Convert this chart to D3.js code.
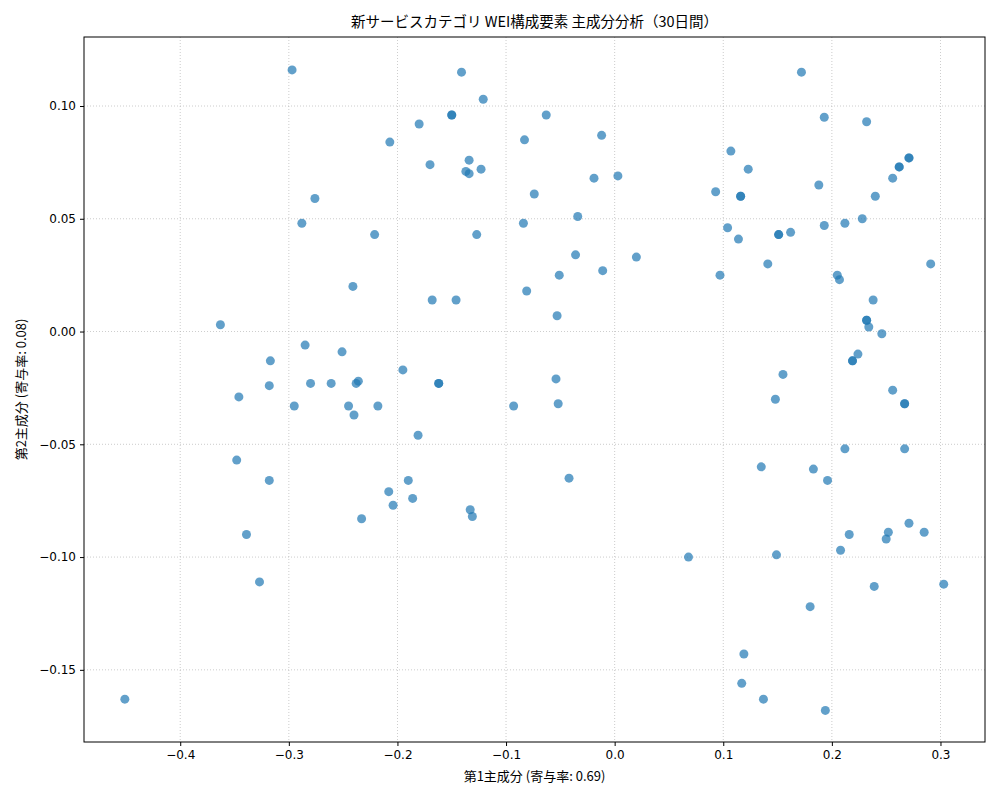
<!DOCTYPE html><html><head><meta charset="utf-8">
<script src="https://cdn.jsdelivr.net/npm/d3@7"></script>
<style>body{margin:0;background:#fff}text{font-family:"Noto Sans CJK JP","DejaVu Sans",sans-serif}</style></head><body>
<svg id="c" width="1000" height="800"></svg>
<script>
const pc1=[-0.451,-0.363,-0.297,-0.141,-0.121,-0.150,-0.150,-0.063,-0.180,-0.207,-0.083,-0.012,-0.170,-0.134,-0.137,-0.134,-0.123,-0.019,0.003,-0.074,-0.276,-0.288,-0.084,-0.034,-0.221,-0.127,-0.036,0.020,-0.011,-0.051,-0.241,-0.081,-0.168,-0.146,-0.053,-0.285,-0.251,-0.317,-0.195,-0.280,-0.261,-0.236,-0.238,-0.162,-0.162,-0.318,-0.054,-0.346,-0.295,-0.245,-0.218,-0.240,-0.093,-0.052,-0.181,-0.348,-0.318,-0.190,-0.042,-0.208,-0.186,-0.204,-0.133,-0.131,-0.233,-0.339,-0.327,0.068,
0.172,0.193,0.232,0.107,0.123,0.262,0.262,0.271,0.271,0.256,0.093,0.188,0.116,0.116,0.240,0.228,0.104,0.193,0.212,0.151,0.151,0.162,0.114,0.141,0.291,0.097,0.205,0.207,0.238,0.232,0.232,0.234,0.246,0.224,0.219,0.219,0.155,0.256,0.267,0.267,0.148,0.212,0.267,0.135,0.183,0.196,0.271,0.252,0.285,0.216,0.250,0.208,0.149,0.239,0.303,0.180,0.119,0.117,0.137,0.194];
const pc2=[-0.163,0.003,0.116,0.115,0.103,0.096,0.096,0.096,0.092,0.084,0.085,0.087,0.074,0.076,0.071,0.070,0.072,0.068,0.069,0.061,0.059,0.048,0.048,0.051,0.043,0.043,0.034,0.033,0.027,0.025,0.020,0.018,0.014,0.014,0.007,-0.006,-0.009,-0.013,-0.017,-0.023,-0.023,-0.022,-0.023,-0.023,-0.023,-0.024,-0.021,-0.029,-0.033,-0.033,-0.033,-0.037,-0.033,-0.032,-0.046,-0.057,-0.066,-0.066,-0.065,-0.071,-0.074,-0.077,-0.079,-0.082,-0.083,-0.090,-0.111,-0.100,
0.115,0.095,0.093,0.080,0.072,0.073,0.073,0.077,0.077,0.068,0.062,0.065,0.060,0.060,0.060,0.050,0.046,0.047,0.048,0.043,0.043,0.044,0.041,0.030,0.030,0.025,0.025,0.023,0.014,0.005,0.005,0.002,-0.001,-0.010,-0.013,-0.013,-0.019,-0.026,-0.032,-0.032,-0.030,-0.052,-0.052,-0.060,-0.061,-0.066,-0.085,-0.089,-0.089,-0.090,-0.092,-0.097,-0.099,-0.113,-0.112,-0.122,-0.143,-0.156,-0.163,-0.168];
const xTicks=[-0.4,-0.3,-0.2,-0.1,0.0,0.1,0.2,0.3];
const yTicks=[-0.15,-0.10,-0.05,0.00,0.05,0.10];
const svg=d3.select("#c");
const L=84,R=985,T=37,B=742;
const x=d3.scaleLinear().domain([-0.4886,0.341]).range([L,R]);
const y=d3.scaleLinear().domain([-0.182,0.1306]).range([B,T]);
const fmt=(v,d)=>{const s=Math.abs(v).toFixed(d);return (v< -1e-9?"\u2212":"")+s;};
const g=svg.append("g");
g.selectAll(".gx").data(xTicks).join("line").attr("x1",d=>x(d)).attr("x2",d=>x(d)).attr("y1",T).attr("y2",B).attr("stroke","#b0b0b0").attr("stroke-width",0.8).attr("stroke-dasharray","1,2").attr("opacity",0.8);
g.selectAll(".gy").data(yTicks).join("line").attr("y1",d=>y(d)).attr("y2",d=>y(d)).attr("x1",L).attr("x2",R).attr("stroke","#b0b0b0").attr("stroke-width",0.8).attr("stroke-dasharray","1,2").attr("opacity",0.8);
svg.append("g").selectAll("circle").data(pc1.map((v,i)=>[v,pc2[i]])).join("circle").attr("cx",d=>x(d[0])).attr("cy",d=>y(d[1])).attr("r",4.5).attr("fill","#1f77b4").attr("fill-opacity",0.7);
svg.append("rect").attr("x",L).attr("y",T).attr("width",R-L).attr("height",B-T).attr("fill","none").attr("stroke","#000").attr("stroke-width",1);
const xa=svg.append("g").attr("transform",`translate(0,${B})`).call(d3.axisBottom(x).tickValues(xTicks).tickFormat(d=>fmt(d,1)).tickSize(4).tickPadding(4));
const ya=svg.append("g").attr("transform",`translate(${L},0)`).call(d3.axisLeft(y).tickValues(yTicks).tickFormat(d=>fmt(d,2)).tickSize(4).tickPadding(4));
[xa,ya].forEach(a=>{a.select(".domain").remove();a.selectAll("text").attr("font-size",12).attr("fill","#000").style("font-family","'DejaVu Sans',sans-serif");});
svg.append("text").attr("x",(L+R)/2).attr("y",27).attr("text-anchor","middle").attr("font-size",14.5).text("新サービスカテゴリ WEI構成要素 主成分分析（30日間）");
svg.append("text").attr("x",(L+R)/2).attr("y",781).attr("text-anchor","middle").attr("font-size",13).text("第1主成分 (寄与率: 0.69)");
svg.append("text").attr("transform",`translate(26,${(T+B)/2}) rotate(-90)`).attr("text-anchor","middle").attr("font-size",13).text("第2主成分 (寄与率: 0.08)");
</script></body></html>
